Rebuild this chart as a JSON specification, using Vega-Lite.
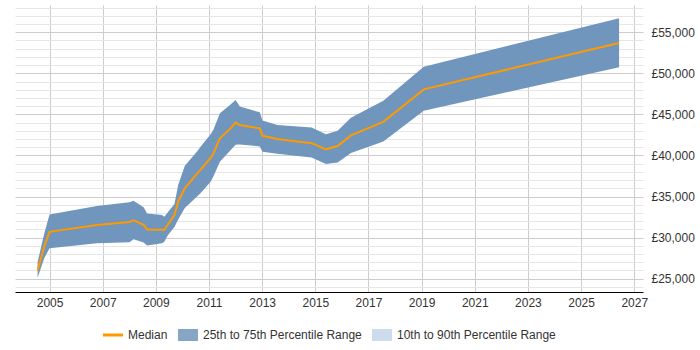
{
  "$schema": "https://vega.github.io/schema/vega-lite/v6.json",
  "width": 628,
  "height": 287,
  "autosize": "none",
  "padding": {"left": 15, "top": 5, "right": 57, "bottom": 58},
  "background": "white",
  "config": {
    "view": {"stroke": null},
    "font": "Liberation Sans",
    "axis": {"labelFont": "Liberation Sans", "labelFontSize": 12, "labelColor": "#333333"},
    "legend": {"labelFont": "Liberation Sans", "labelFontSize": 12, "labelColor": "#333333"}
  },
  "resolve": {"axis": {"y": "independent"}},
  "datasets": {
    "band": [
      {"year": 2004.55, "p25": 25100, "median": 26000, "p75": 27000},
      {"year": 2004.80, "p25": 27500, "median": 28900, "p75": 30500},
      {"year": 2005.00, "p25": 28700, "median": 30700, "p75": 32800},
      {"year": 2006.78, "p25": 29300, "median": 31550, "p75": 33850},
      {"year": 2008.01, "p25": 29450, "median": 31900, "p75": 34300},
      {"year": 2008.16, "p25": 29800, "median": 32100, "p75": 34500},
      {"year": 2008.54, "p25": 29400, "median": 31550, "p75": 33700},
      {"year": 2008.67, "p25": 29050, "median": 31000, "p75": 32950},
      {"year": 2009.23, "p25": 29300, "median": 30950, "p75": 32750},
      {"year": 2009.32, "p25": 29500, "median": 30950, "p75": 32550},
      {"year": 2009.45, "p25": 30300, "median": 31600, "p75": 33100},
      {"year": 2009.70, "p25": 31300, "median": 32750, "p75": 34100},
      {"year": 2009.84, "p25": 32200, "median": 34400, "p75": 36400},
      {"year": 2010.09, "p25": 33600, "median": 36000, "p75": 38750},
      {"year": 2010.55, "p25": 35000, "median": 37800, "p75": 40500},
      {"year": 2010.68, "p25": 35400, "median": 38250, "p75": 41050},
      {"year": 2011.06, "p25": 36800, "median": 39700, "p75": 42600},
      {"year": 2011.16, "p25": 37400, "median": 40200, "p75": 43100},
      {"year": 2011.41, "p25": 39250, "median": 42100, "p75": 45150},
      {"year": 2011.81, "p25": 40650, "median": 43300, "p75": 46200},
      {"year": 2012.00, "p25": 41300, "median": 44000, "p75": 46750},
      {"year": 2012.16, "p25": 41350, "median": 43700, "p75": 45950},
      {"year": 2012.91, "p25": 41100, "median": 43300, "p75": 45250},
      {"year": 2013.01, "p25": 40450, "median": 42400, "p75": 44250},
      {"year": 2013.57, "p25": 40200, "median": 42000, "p75": 43700},
      {"year": 2014.86, "p25": 39750, "median": 41500, "p75": 43400},
      {"year": 2015.40, "p25": 38950, "median": 40750, "p75": 42600},
      {"year": 2015.84, "p25": 39150, "median": 41150, "p75": 43000},
      {"year": 2016.34, "p25": 40300, "median": 42450, "p75": 44600},
      {"year": 2017.56, "p25": 41700, "median": 44100, "p75": 46650},
      {"year": 2019.08, "p25": 45450, "median": 48050, "p75": 50800},
      {"year": 2026.43, "p25": 50750, "median": 53700, "p75": 56700}
    ],
    "legend": [
      {"series": "Median"},
      {"series": "25th to 75th Percentile Range"},
      {"series": "10th to 90th Percentile Range"}
    ]
  },
  "layer": [
    {
      "data": {"name": "band"},
      "mark": {"type": "area", "color": "#7096be", "opacity": 1},
      "encoding": {
        "x": {
          "field": "year", "type": "quantitative",
          "scale": {"domain": [2003.7, 2027.33], "nice": false, "zero": false},
          "axis": {
            "title": null, "values": [2005, 2007, 2009, 2011, 2013, 2015, 2017, 2019, 2021, 2023, 2025, 2027],
            "format": "d", "ticks": false, "tickSize": 0, "labelPadding": 5,
            "domainColor": "#000000", "domainWidth": 1,
            "grid": true, "gridColor": "#cccccc", "labelFlush": false
          }
        },
        "y": {
          "field": "p25", "type": "quantitative",
          "scale": {"domain": [23380, 58320], "nice": false, "zero": false},
          "axis": {
            "orient": "right", "title": null, "domain": false, "ticks": false, "tickSize": 0,
            "labels": false,
            "values": [24000,26000,27000,28000,29000,31000,32000,33000,34000,36000,37000,38000,39000,41000,42000,43000,44000,46000,47000,48000,49000,51000,52000,53000,54000,56000,57000,58000],
            "grid": true, "gridColor": "#e6e6e6", "zindex": 0
          }
        },
        "y2": {"field": "p75"}
      }
    },
    {
      "data": {"name": "band"},
      "mark": {"type": "line", "color": "#ff9900", "strokeWidth": 2},
      "encoding": {
        "x": {"field": "year", "type": "quantitative"},
        "y": {
          "field": "median", "type": "quantitative",
          "axis": {
            "orient": "right", "title": null, "domain": false, "ticks": false, "tickSize": 0,
            "labelPadding": 8,
            "values": [25000, 30000, 35000, 40000, 45000, 50000, 55000],
            "labelExpr": "'£' + format(datum.value, ',')",
            "grid": true, "gridColor": "#cccccc", "zindex": 0
          }
        }
      }
    },
    {
      "data": {"name": "legend"},
      "mark": {"type": "point", "filled": true, "opacity": 0},
      "encoding": {
        "color": {
          "field": "series", "type": "nominal",
          "scale": {"domain": ["Median", "25th to 75th Percentile Range", "10th to 90th Percentile Range"], "range": ["#ff9900", "#87a6c6", "#ccdcec"]},
          "legend": {
            "title": null, "orient": "none", "direction": "horizontal",
            "legendX": 88, "legendY": 320,
            "symbolOpacity": 1, "symbolSize": 400, "symbolStrokeWidth": 0,
            "labelOffset": 5, "columnPadding": 10
          }
        },
        "shape": {
          "field": "series", "type": "nominal",
          "scale": {"domain": ["Median", "25th to 75th Percentile Range", "10th to 90th Percentile Range"], "range": ["M-1,-0.15H1V0.15H-1Z", "M-1,-0.6H1V0.6H-1Z", "M-1,-0.6H1V0.6H-1Z"]},
          "legend": {
            "title": null, "orient": "none", "direction": "horizontal",
            "legendX": 88, "legendY": 320,
            "symbolOpacity": 1, "symbolSize": 400, "symbolStrokeWidth": 0,
            "labelOffset": 5, "columnPadding": 10
          }
        }
      }
    }
  ]
}
